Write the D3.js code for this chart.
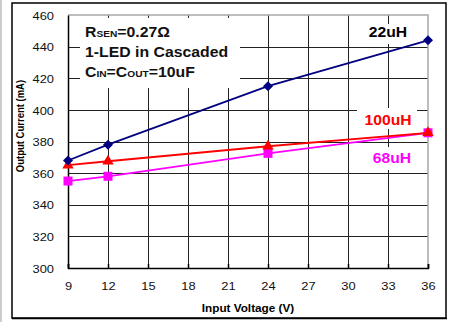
<!DOCTYPE html>
<html>
<head>
<meta charset="utf-8">
<script src="https://cdn.jsdelivr.net/npm/d3@7"></script>
<style>
  body { margin: 0; background: #fff; }
  svg { display: block; font-family: "Liberation Sans", Arial, sans-serif; }
</style>
</head>
<body>
<div id="chart"></div>
<script>
// data
const xTicks = [9, 12, 15, 18, 21, 24, 27, 30, 33, 36];
const yTicks = [300, 320, 340, 360, 380, 400, 420, 440, 460];
const vin = [9, 12, 24, 36];
const i22 = [368, 378, 415, 444];
const i100 = [365, 367.5, 377, 385.5];
const i68 = [355, 358, 372.5, 385.5];

const width = 450, height = 322;
const SX = 1.12; // the original text is a bit wider than tall

const x = d3.scaleLinear().domain([9, 36]).range([68, 428]);
const y = d3.scaleLinear().domain([300, 460]).range([268, 15]);

const svg = d3.select("#chart").append("svg")
    .attr("width", width)
    .attr("height", height);

// outer frame
svg.append("line")
    .attr("x1", 1).attr("x2", 1).attr("y1", 0).attr("y2", height)
    .attr("stroke", "#999").attr("stroke-width", 1);
svg.append("rect")
    .attr("x", 12).attr("y", 3).attr("width", 434).attr("height", 315)
    .attr("fill", "none").attr("stroke", "#000").attr("stroke-width", 1.5);
svg.append("line")
    .attr("x1", 12).attr("x2", 447).attr("y1", 318.5).attr("y2", 318.5)
    .attr("stroke", "#000").attr("stroke-width", 1.5);

// grid
const grid = svg.append("g").attr("stroke", "#222").attr("stroke-width", 1);
grid.selectAll(".h").data(yTicks.slice(1, -1)).join("line")
    .attr("x1", x(9)).attr("x2", x(36))
    .attr("y1", d => Math.round(y(d)) + 0.5).attr("y2", d => Math.round(y(d)) + 0.5);
grid.selectAll(".v").data(xTicks.slice(1, -1)).join("line")
    .attr("y1", y(460)).attr("y2", y(300))
    .attr("x1", d => Math.round(x(d)) + 0.5).attr("x2", d => Math.round(x(d)) + 0.5);

// top / right border of plot area
svg.append("path")
    .attr("d", `M${x(9)},${y(460)}H${x(36)}V${y(300)}`)
    .attr("fill", "none").attr("stroke", "#a8a8a8").attr("stroke-width", 1.5);

// white boxes behind labels
const boxes = [[80, 18, 160, 70], [362, 24, 52, 20], [357, 108, 60, 21], [366, 147, 52, 23]];
svg.selectAll(".box").data(boxes).join("rect")
    .attr("x", d => d[0]).attr("y", d => d[1])
    .attr("width", d => d[2]).attr("height", d => d[3])
    .attr("fill", "#fff");

// axes
const xAxis = svg.append("g")
    .attr("transform", `translate(0,${y(300)})`)
    .call(d3.axisBottom(x).tickValues(xTicks).tickSize(-4).tickPadding(0));
xAxis.select(".domain").attr("stroke-width", 1.5);
xAxis.selectAll(".tick line").attr("stroke-width", 1.5);
xAxis.selectAll("text")
    .attr("y", 0).attr("dy", 0)
    .attr("transform", `translate(0,22) scale(${SX},1)`)
    .attr("font-size", 11.5).attr("fill", "#111");

const yAxis = svg.append("g")
    .attr("transform", `translate(${x(9)},0)`)
    .call(d3.axisLeft(y).tickValues(yTicks).tickSize(0).tickPadding(0));
yAxis.select(".domain").attr("stroke-width", 1.5);
yAxis.selectAll("text")
    .attr("x", 0).attr("dy", "0.36em")
    .attr("transform", `translate(-14,0) scale(${SX},1)`)
    .attr("font-size", 11.5).attr("fill", "#111");

svg.append("text")
    .attr("transform", `translate(${(x(9) + x(36)) / 2},312) scale(${SX},1)`)
    .attr("text-anchor", "middle")
    .attr("font-size", 10.5).attr("font-weight", "bold")
    .text("Input Voltage (V)");

svg.append("text")
    .attr("transform", `translate(24,126) scale(${SX},1) rotate(-90)`)
    .attr("text-anchor", "middle")
    .attr("font-size", 9.5).attr("font-weight", "bold")
    .text("Output Current (mA)");

// series
const series = [
    {name: "68uH", values: i68, color: "#ff00ff", symbol: d3.symbolSquare, size: 81, rot: 0},
    {name: "100uH", values: i100, color: "#ff0000", symbol: d3.symbolTriangle, size: 56, rot: 0},
    {name: "22uH", values: i22, color: "#000080", symbol: d3.symbolSquare, size: 50, rot: 45}
];

const line = d3.line().x(d => x(d[0])).y(d => y(d[1]));

series.forEach(s => {
    const pts = vin.map((v, i) => [v, s.values[i]]);
    svg.append("path")
        .attr("d", line(pts))
        .attr("fill", "none")
        .attr("stroke", s.color)
        .attr("stroke-width", 1.8);
    svg.selectAll(null).data(pts).join("path")
        .attr("d", d3.symbol(s.symbol, s.size))
        .attr("transform", d => `translate(${x(d[0])},${y(d[1])}) rotate(${s.rot})`)
        .attr("fill", s.color);
});

// series labels
const labels = [
    {text: "22uH", vx: 33, cy: 37, dx: 0, color: "#000"},
    {text: "100uH", vx: 33, cy: 125, dx: 0, color: "#ff0000"},
    {text: "68uH", vx: 33, cy: 163, dx: 4, color: "#ff00ff"}
];
svg.selectAll(".lab").data(labels).join("text")
    .attr("transform", d => `translate(${x(d.vx) + d.dx},${d.cy}) scale(${SX},1)`)
    .attr("text-anchor", "middle")
    .attr("font-size", 14).attr("font-weight", "bold")
    .attr("fill", d => d.color)
    .text(d => d.text);

// condition note
const note = [
    [["R", 14], ["SEN", 9], ["=0.27Ω", 14]],
    [["1-LED in Cascaded", 14]],
    [["C", 14], ["IN", 9], ["=C", 14], ["OUT", 9], ["=10uF", 14]]
];
note.forEach((parts, i) => {
    const t = svg.append("text")
        .attr("transform", `translate(85,${37 + i * 20}) scale(1.13,1)`)
        .attr("font-weight", "bold").attr("fill", "#111");
    parts.forEach(p => t.append("tspan").attr("font-size", p[1]).text(p[0]));
});
</script>
</body>
</html>
